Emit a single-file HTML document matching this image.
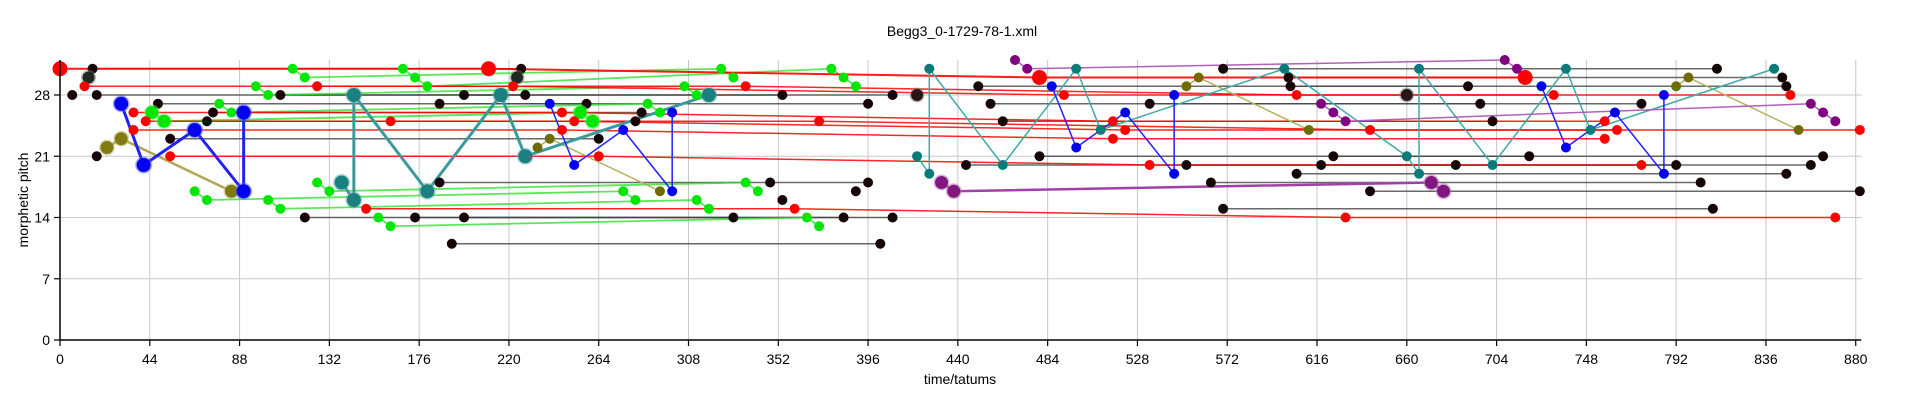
<!DOCTYPE html>
<html><head><meta charset="utf-8"><style>
html,body{margin:0;padding:0;background:#fff;}
svg{display:block;font-family:"Liberation Sans",Arial,sans-serif;}
</style></head><body>
<svg id="chart" width="1920" height="401" viewBox="0 0 1920 401">
<text x="962" y="36" font-size="14" text-anchor="middle" fill="#000">Begg3_0-1729-78-1.xml</text>
<text x="960" y="384" font-size="14" text-anchor="middle" fill="#000">time/tatums</text>
<text x="28" y="200" font-size="14" text-anchor="middle" fill="#000" transform="rotate(-90 28 200)">morphetic pitch</text>
<g id="grid"></g>
<g id="gray"></g>
<g id="series"></g>
<g id="dots"></g>
<g id="axes"></g>
</svg>
<script>
const xTicks=[0,44,88,132,176,220,264,308,352,396,440,484,528,572,616,660,704,748,792,836,880];
const yTicks=[0,7,14,21,28];
// black note pairs: start time, end time, pitch
const blackStart=[16,570,602,450,603,18,108,198,48,186,456,534,75,72,462,54,480,624,444,552,618,606,186,564,642,570,120,174,198,192];
const blackEnd=[226,812,844,690,846,228,354,408,258,396,696,775,285,282,702,264,720,864,684,792,858,846,396,804,882,810,330,384,408,402];
const blackPitch=[31,31,30,29,29,28,28,28,27,27,27,27,26,25,25,23,21,21,20,20,20,19,18,18,17,15,14,14,14,11];
const blackSingleX=[6,18,348,390,354];
const blackSingleY=[28,21,18,17,16];
const bigDarkX=[14,224,420,660];
const bigDarkY=[30,30,28,28];
// coloured series
const blue1=[[30,27],[41,20],[66,24],[90,17],[90,26]];
const blue2=[[240,27],[252,20],[276,24],[300,17],[300,26]];
const blue3=[[486,29],[498,22],[522,26],[546,19],[546,28]];
const blue4=[[726,29],[738,22],[762,26],[786,19],[786,28]];
const teal1=[[138,18],[144,16],[144,28],[180,17],[216,28],[228,21],[318,28]];
const teal2=[[420,21],[426,19],[426,31],[462,20],[498,31],[510,24],[600,31],[660,21],[666,19],[666,31],[702,20],[738,31],[750,24],[840,31]];
const olive1=[[23,22],[30,23],[84,17]];
const olive2=[[234,22],[240,23],[294,17]];
const olive3=[[552,29],[558,30],[612,24]];
const olive4=[[792,29],[798,30],[852,24]];
const purple1=[[432,18],[438,17],[672,18],[678,17]];
const purple2=[[468,32],[474,31],[708,32],[714,31]];
const purple3=[[618,27],[624,26],[630,25],[858,27],[864,26],[870,25]];
const green1=[[45,26],[51,25],[255,26],[261,25]];
const green2=[[78,27],[84,26],[288,27],[294,26]];
const green3=[[96,29],[102,28],[306,29],[312,28]];
const green4=[[114,31],[120,30],[324,31],[330,30]];
const green5=[[168,31],[174,30],[180,29],[378,31],[384,30],[390,29]];
const green6=[[66,17],[72,16],[276,17],[282,16]];
const green7=[[126,18],[132,17],[336,18],[342,17]];
const green8=[[102,16],[108,15],[312,16],[318,15]];
const green9=[[156,14],[162,13],[366,14],[372,13]];
const red1=[[0,31],[210,31],[480,30],[718,30]];
const red2=[[12,29],[222,29],[492,28],[732,28]];
const red3=[[126,29],[336,29],[606,28],[848,28]];
const red4=[[36,26],[246,26],[516,25],[757,25]];
const red5=[[42,25],[252,25],[522,24],[763,24]];
const red6=[[162,25],[372,25],[642,24],[882,24]];
const red7=[[36,24],[246,24],[516,23],[757,23]];
const red8=[[54,21],[264,21],[534,20],[775,20]];
const red9=[[150,15],[360,15],[630,14],[870,14]];

const NS="http://www.w3.org/2000/svg";
function sx(v){return 60+v*2.0406;}
function sy(v){return 340-v*8.75;}
function mk(parent,tag,attrs){const e=document.createElementNS(NS,tag);for(const k in attrs)e.setAttribute(k,attrs[k]);parent.appendChild(e);return e;}
const grid=document.getElementById('grid'),axes=document.getElementById('axes'),gray=document.getElementById('gray'),ser=document.getElementById('series'),dots=document.getElementById('dots');
xTicks.forEach(t=>{
  const g=mk(grid,'line',{x1:sx(t),x2:sx(t),y1:60,y2:340,stroke:'#c8c8c8','stroke-width':1});
  
  
  const tk=mk(axes,'line',{x1:sx(t),x2:sx(t),y1:340,y2:346,stroke:'#000','stroke-width':1.2});
  
  
  const tl=mk(axes,'text',{x:sx(t),y:364,'font-size':14,'text-anchor':'middle',fill:'#000'});
  tl.textContent=t;
  
  
});
yTicks.forEach(t=>{
  const g=mk(grid,'line',{x1:60,x2:1862,y1:sy(t),y2:sy(t),stroke:'#c8c8c8','stroke-width':1});
  
  
  const tk=mk(axes,'line',{x1:54,x2:60,y1:sy(t),y2:sy(t),stroke:'#000','stroke-width':1.2});
  
  
  const tl=mk(axes,'text',{x:50,y:sy(t)+5,'font-size':14,'text-anchor':'end',fill:'#000'});
  tl.textContent=t;
  
  
});
const xa=mk(axes,'line',{x1:60,x2:1861,y1:340,y2:340,stroke:'#000','stroke-width':1.5});


const ya=mk(axes,'line',{x1:60,x2:60,y1:60,y2:340,stroke:'#000','stroke-width':1.5});



function dot(x,y,r,fill,halo){
  if(halo){const h=mk(dots,'circle',{cx:sx(x),cy:sy(y),r:r+1.5,fill:halo,opacity:0.5});}
  const c=mk(dots,'circle',{cx:sx(x),cy:sy(y),r:r,fill:fill});
  
  
}
// black pairs
blackStart.forEach((s,i)=>{
  const l=mk(gray,'line',{x1:sx(s),x2:sx(blackEnd[i]),y1:sy(blackPitch[i]),y2:sy(blackPitch[i]),stroke:'#444','stroke-width':1.5,opacity:0.8});
  
  
  dot(s,blackPitch[i],5,'#150505');
  dot(blackEnd[i],blackPitch[i],5,'#150505');
});
blackSingleX.forEach((x,i)=>dot(x,blackSingleY[i],5,'#150505'));
bigDarkX.forEach((x,i)=>dot(x,bigDarkY[i],6,i<2?'#1e2a1e':'#2a1515','#777'));

function drawSeries(pts,color,lineColor,w,r,halo,name,lineOp){
  const p=mk(ser,'polyline',{points:pts.map(d=>sx(d[0])+','+sy(d[1])).join(' '),fill:'none',stroke:lineColor,'stroke-width':w,opacity:lineOp});
  
  
  pts.forEach(d=>dot(d[0],d[1],r,color,halo));
}
[green1].forEach(s=>drawSeries(s,'#00e600','#22e022',2,6.5,'#66ee66','green-series',0.75));
[green2,green3,green4,green5,green6,green7,green8,green9].forEach(s=>drawSeries(s,'#00e600','#22e022',1.8,5,null,'green-series',0.75));
[red2,red3,red4,red5,red6,red7,red8,red9].forEach(s=>drawSeries(s,'#ff0000','#ff0000',1.5,5,null,'red-series',0.85));
drawSeries(red1,'#ff0000','#ff0000',2,7.5,null,'red-series',0.9);
drawSeries(olive1,'#807a10','#b0a850',2.5,6.5,'#c0b870','olive-series',1);
[olive2,olive3,olive4].forEach(s=>drawSeries(s,'#706a00','#b8b060',1.5,5,null,'olive-series',1));
drawSeries(teal1,'#1a8080','#3a9a9a',3,7,'#66aaaa','teal-series',1);
drawSeries(teal2,'#0a7a7a','#40a8a8',1.5,5,null,'teal-series',1);
drawSeries(purple1,'#801880','#a040a8',2.5,6.5,'#b070b0','purple-series',1);
[purple2,purple3].forEach(s=>drawSeries(s,'#800080','#b060b8',1.5,5,null,'purple-series',1));
drawSeries(blue1,'#0000f0','#2222ee',3,7,'#5555ff','blue-series',1);
[blue2,blue3,blue4].forEach(s=>drawSeries(s,'#0000f0','#2020ff',1.5,5,null,'blue-series',1));
</script>
</body></html>
